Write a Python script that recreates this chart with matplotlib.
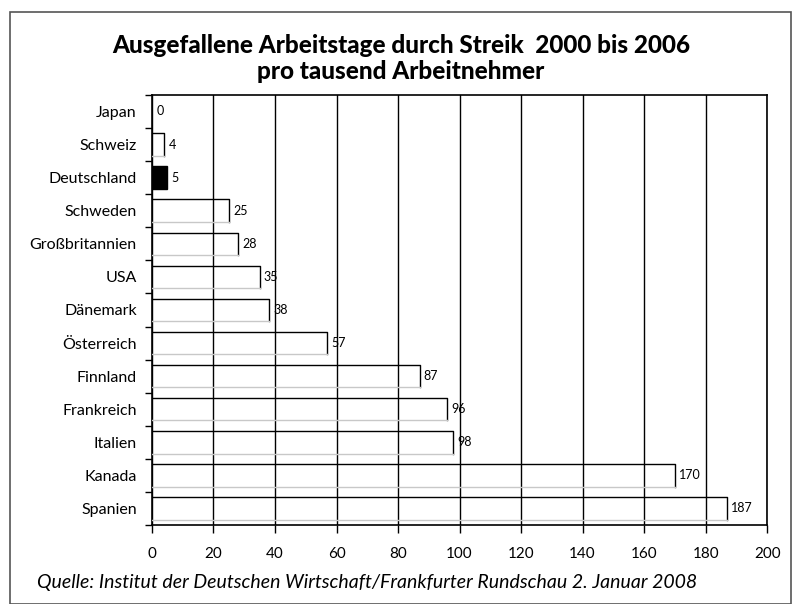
import numpy as np
import matplotlib.pyplot as plt
from matplotlib.patches import Rectangle

plt.rcParams['font.family'] = ['Lato', 'DejaVu Sans']

countries = ["Japan", "Schweiz", "Deutschland", "Schweden", "Großbritannien", "USA",
             "Dänemark", "Österreich", "Finnland", "Frankreich", "Italien", "Kanada", "Spanien"]
values = [0, 4, 5, 25, 28, 35, 38, 57, 87, 96, 98, 170, 187]
highlight = "Deutschland"
x_ticks = [0, 20, 40, 60, 80, 100, 120, 140, 160, 180, 200]

fig = plt.figure(figsize=(8.02, 6.04), dpi=100)
# rahmen um die ganze grafik
fig.patches.append(Rectangle((0.013, 0.0), 0.973, 0.98, transform=fig.transFigure,
                             fill=False, edgecolor='#555555', linewidth=1.2))

ax = fig.add_axes([0.1895, 0.1308, 0.767, 0.712])

y = np.arange(len(countries))
h = 0.68
for yi, v, c in zip(y, values, countries):
    if c == highlight:
        ax.barh(yi, v, height=h, color='black', edgecolor='black', linewidth=1, zorder=3)
    else:
        ax.barh(yi, v, height=h, color='none', edgecolor='none', zorder=3)
        if v > 0:
            ax.plot([0, v, v], [yi - h / 2, yi - h / 2, yi + h / 2], color='black', lw=1, zorder=3)
            ax.plot([0, v], [yi + h / 2, yi + h / 2], color='#c8c8c8', lw=1, zorder=3)
    ax.text(v + 1.4, yi, str(v), va='center', ha='left', fontsize=9, zorder=4)

ax.set_xlim(0, 200)
ax.set_ylim(len(countries) - 0.5, -0.5)
ax.set_xticks(x_ticks)
ax.set_xticklabels([str(t) for t in x_ticks], fontsize=11)
ax.set_yticks(y)
ax.set_yticklabels(countries, fontsize=11.5)
ax.tick_params(axis='y', which='major', length=0, pad=11)
ax.set_yticks(np.arange(len(countries) + 1) - 0.5, minor=True)
ax.tick_params(axis='y', which='minor', length=5, width=1, direction='out')
ax.tick_params(axis='x', length=6, width=1, direction='out', pad=10)
ax.grid(axis='x', color='black', linewidth=1, zorder=1)
ax.set_axisbelow(True)
for s in ax.spines.values():
    s.set_linewidth(1.2)

fig.text(0.5, 0.925, "Ausgefallene Arbeitstage durch Streik  2000 bis 2006",
         ha='center', va='center', fontsize=17.5, fontweight='black')
fig.text(0.5, 0.881, "pro tausend Arbeitnehmer",
         ha='center', va='center', fontsize=17.5, fontweight='black')
fig.text(0.046, 0.035, "Quelle: Institut der Deutschen Wirtschaft/Frankfurter Rundschau 2. Januar 2008",
         ha='left', va='center', fontsize=14, style='italic')

fig.savefig("out.png", dpi=100)
